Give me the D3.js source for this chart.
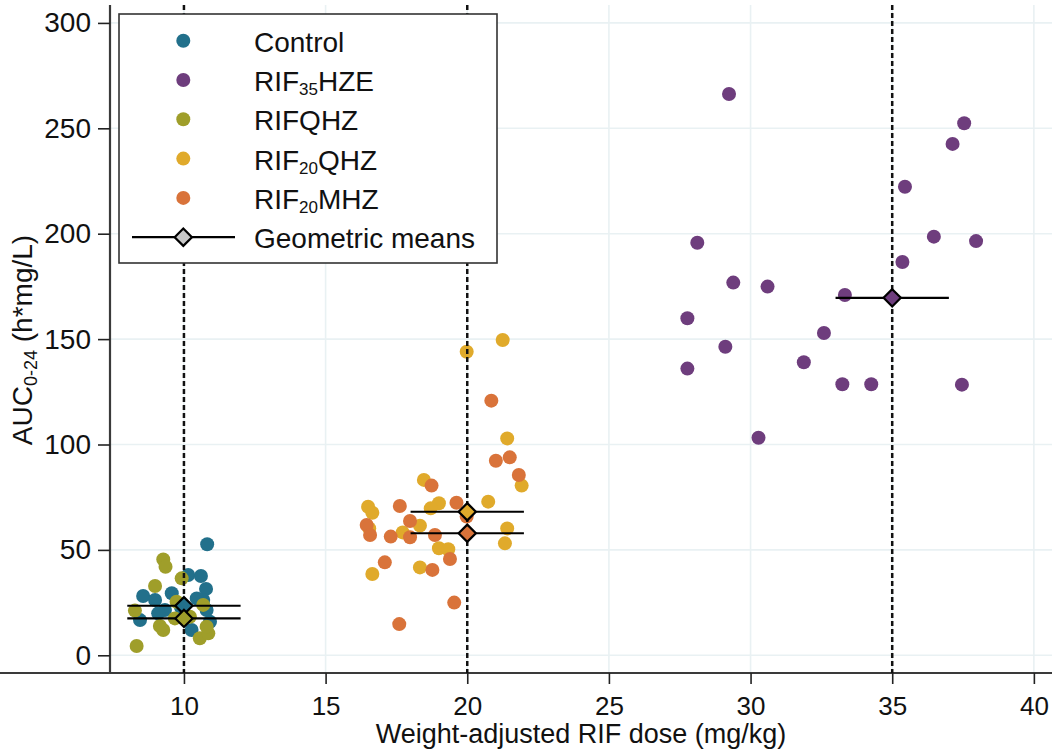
<!DOCTYPE html>
<html>
<head>
<meta charset="utf-8">
<script src="https://cdn.jsdelivr.net/npm/d3@7"></script>
<style>
  body { margin: 0; background: #fff; }
  text { font-family: "Liberation Sans", Arial, sans-serif; fill: #111; }
</style>
</head>
<body>
<div id="chart"></div>
<script>
// groups, in legend order
const groups = ["Control", "RIF35HZE", "RIFQHZ", "RIF20QHZ", "RIF20MHZ"]
const colors = ["#22708b", "#6e3d7d", "#9f9e2a", "#e0aa2b", "#d9733a"]

// [dose mg/kg, AUC0-24]
const controlPts = [[10.82, 52.7], [10.15, 38.1], [10.6, 37.6], [10.78, 31.5], [8.56, 28.1], [9.57, 29.4],
  [8.98, 26.2], [10.68, 26.2], [10.45, 27.0], [9.33, 21.5], [8.45, 16.7], [10.27, 12.0], [10.92, 15.9],
  [9.09, 19.9], [10.8, 21.5], [9.9, 22.5]]
const rif35Pts = [[29.24, 266.3], [37.54, 252.4], [37.13, 242.6], [35.45, 222.3], [28.12, 195.7], [36.47, 198.6],
  [37.96, 196.5], [35.36, 186.6], [29.39, 176.8], [30.6, 174.9], [33.33, 170.9], [27.77, 159.9], [32.59, 152.9],
  [29.11, 146.4], [27.77, 136.0], [31.88, 139.0], [33.24, 128.6], [34.26, 128.6], [37.46, 128.4], [30.28, 103.2]]
const rifqPts = [[9.27, 45.5], [9.35, 42.0], [9.92, 36.5], [8.98, 32.9], [8.27, 21.2], [9.74, 25.4], [10.68, 23.9],
  [9.15, 13.9], [9.27, 12.0], [9.68, 17.5], [10.21, 18.3], [10.56, 8.1], [10.86, 10.4], [10.8, 13.6], [8.33, 4.4]]
const rif20qPts = [[21.25, 149.6], [19.98, 144.0], [21.41, 102.9], [21.92, 80.5], [18.47, 83.2], [20.74, 72.9],
  [16.5, 70.5], [16.65, 67.6], [19.0, 72.1], [18.71, 69.7], [18.33, 61.5], [17.72, 58.3], [16.54, 60.2],
  [21.41, 60.2], [21.33, 53.1], [19.0, 50.8], [19.33, 50.3], [18.33, 41.7], [16.65, 38.6]]
const rif20mPts = [[20.85, 120.8], [21.5, 93.9], [21.01, 92.3], [21.82, 85.5], [18.74, 80.5], [19.62, 72.4],
  [17.62, 70.8], [17.98, 63.7], [16.45, 61.8], [16.57, 57.1], [17.3, 56.3], [17.98, 56.0], [18.86, 57.1],
  [19.98, 65.8], [19.39, 45.7], [17.09, 44.1], [18.77, 40.5], [19.54, 25.0], [17.6, 14.8]]
const allPts = [controlPts, rif35Pts, rifqPts, rif20qPts, rif20mPts]

// geometric means, drawn at the target dose +/- 2 mg/kg
const gmDose = [10, 35, 10, 20, 20]
const gmAuc = [23.5, 169.6, 17.5, 68.1, 57.9]
const gmHalf = 2

const refDoses = [10, 20, 35]
const xTicks = [10, 15, 20, 25, 30, 35, 40]
const yTicks = [0, 50, 100, 150, 200, 250, 300]

const width = 1052, height = 749
const L = 110, R = 1052, T = 5, B = 673

const x = d3.scaleLinear().domain([7.39, 40.64]).range([L, R])
const y = d3.scaleLinear().domain([-8.4, 308.5]).range([B, T])

const svg = d3.select("#chart").append("svg")
  .attr("width", width).attr("height", height)

// grid
const grid = svg.append("g").attr("stroke", "#e9f1f3").attr("stroke-width", 1.6)
grid.selectAll(".gy").data(yTicks).join("line")
  .attr("x1", L).attr("x2", R).attr("y1", d => y(d)).attr("y2", d => y(d))
grid.selectAll(".gx").data(xTicks).join("line")
  .attr("y1", T).attr("y2", B).attr("x1", d => x(d)).attr("x2", d => x(d))

// axes
const xAxis = svg.append("g").attr("transform", `translate(0,${B})`)
  .call(d3.axisBottom(x).tickValues(xTicks).tickSize(11).tickPadding(13).tickSizeOuter(0))
const yAxis = svg.append("g").attr("transform", `translate(${L},0)`)
  .call(d3.axisLeft(y).tickValues(yTicks).tickSize(12).tickPadding(7).tickSizeOuter(0))
xAxis.select(".domain").attr("d", `M0,0H${R}`)
yAxis.select(".domain").attr("d", `M0,${T}V${B}`)
svg.selectAll(".domain").attr("stroke", "#3a3a3a").attr("stroke-width", 2.2)
svg.selectAll(".tick line").attr("stroke", "#222").attr("stroke-width", 1.6)
xAxis.selectAll(".tick text").attr("font-size", 26).attr("fill", "#111")
  .attr("font-family", "Liberation Sans, Arial, sans-serif")
yAxis.selectAll(".tick text").attr("font-size", 28).attr("fill", "#111")
  .attr("font-family", "Liberation Sans, Arial, sans-serif")

// points
groups.forEach((g, i) => {
  svg.append("g").selectAll("circle").data(allPts[i]).join("circle")
    .attr("cx", d => x(d[0])).attr("cy", d => y(d[1])).attr("r", 7)
    .attr("fill", colors[i])
})

// reference dose lines
svg.append("g").selectAll("line").data(refDoses).join("line")
  .attr("x1", d => x(d)).attr("x2", d => x(d)).attr("y1", T).attr("y2", B)
  .attr("stroke", "#111").attr("stroke-width", 2.5).attr("stroke-dasharray", "5,3")

// geometric means
const diamond = d3.symbol().type(d3.symbolDiamond2).size(190)
const gm = svg.append("g")
gmDose.forEach((d, i) => {
  gm.append("line")
    .attr("x1", x(d - gmHalf)).attr("x2", x(d + gmHalf))
    .attr("y1", y(gmAuc[i])).attr("y2", y(gmAuc[i]))
    .attr("stroke", "#000").attr("stroke-width", 2.2)
})
gmDose.forEach((d, i) => {
  gm.append("path").attr("d", diamond)
    .attr("transform", `translate(${x(d)},${y(gmAuc[i])})`)
    .attr("fill", colors[i]).attr("stroke", "#000").attr("stroke-width", 2.2)
})

// legend
const lg = svg.append("g")
lg.append("rect").attr("x", 119).attr("y", 14).attr("width", 378).attr("height", 249)
  .attr("fill", "#fff").attr("stroke", "#333").attr("stroke-width", 1.6)
const labels = [["Control"], ["RIF", "35", "HZE"], ["RIFQHZ"], ["RIF", "20", "QHZ"], ["RIF", "20", "MHZ"]]
labels.forEach((parts, i) => {
  const yy = 40.7 + i * 39.3
  lg.append("circle").attr("cx", 183.3).attr("cy", yy).attr("r", 7).attr("fill", colors[i])
  const t = lg.append("text").attr("x", 254).attr("y", yy + 11).attr("font-size", 28)
  t.append("tspan").text(parts[0])
  if (parts.length > 1) {
    t.append("tspan").attr("font-size", 17).attr("dy", 4).text(parts[1])
    t.append("tspan").attr("dy", -4).text(parts[2])
  }
})
const gy = 40.7 + 5 * 39.3
lg.append("line").attr("x1", 132).attr("x2", 235).attr("y1", gy).attr("y2", gy)
  .attr("stroke", "#000").attr("stroke-width", 2.2)
lg.append("path").attr("d", diamond).attr("transform", `translate(183.3,${gy})`)
  .attr("fill", "#c8c8c8").attr("stroke", "#000").attr("stroke-width", 2.2)
lg.append("text").attr("x", 254).attr("y", gy + 11).attr("font-size", 28).text("Geometric means")

// axis titles
svg.append("text").attr("x", 581).attr("y", 743).attr("text-anchor", "middle")
  .attr("font-size", 27).text("Weight-adjusted RIF dose (mg/kg)")
const yt = svg.append("text").attr("transform", "translate(32,340) rotate(-90)")
  .attr("text-anchor", "middle").attr("font-size", 28)
yt.append("tspan").text("AUC")
yt.append("tspan").attr("font-size", 18).attr("dy", 5).text("0-24")
yt.append("tspan").attr("dy", -5).text(" (h*mg/L)")
</script>
</body>
</html>
